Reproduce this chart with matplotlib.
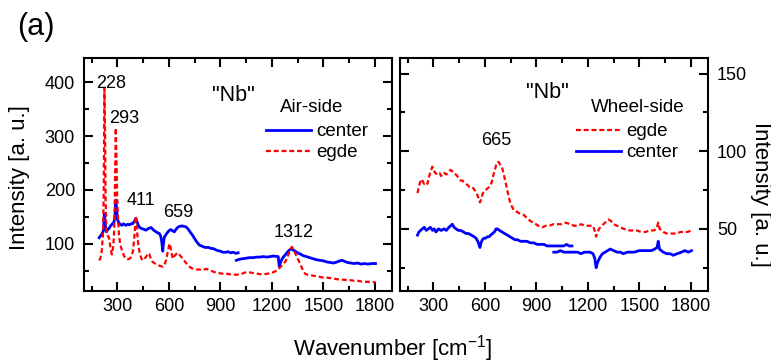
import matplotlib
matplotlib.use("Agg")
import matplotlib.pyplot as plt
from matplotlib.ticker import MultipleLocator
from matplotlib.lines import Line2D

plt.rcParams['font.family'] = ['Liberation Sans', 'DejaVu Sans']
plt.rcParams['mathtext.default'] = 'regular'

# ---------------- data ----------------
# Air-side, center (blue) -- two measured ranges
air_center_x1 = [193, 200, 210, 218, 224, 230, 236, 241, 250, 260, 271, 280, 286, 290, 295, 300, 306, 315, 325, 335,
                 349, 360, 370, 380, 388, 398, 407, 415, 420, 427, 440, 452, 466, 480, 495, 505, 515, 525, 535, 544,
                 552, 558, 564, 568, 573, 585, 595, 603, 612, 620, 632, 640, 650, 661, 675, 690, 700, 712, 725, 739,
                 750, 765, 779, 795, 810, 830, 845, 857, 870, 885, 900, 915, 930, 945, 960, 975, 990, 1003]
air_center_y1 = [111, 114, 118, 124, 156, 132, 122, 125, 128, 133, 137, 140, 155, 181, 165, 145, 140, 136, 134, 137,
                 134, 136, 135, 137, 137, 141, 147, 140, 135, 131, 128, 127, 125, 128, 130, 127, 124, 122, 120, 119,
                 114, 104, 86, 100, 112, 118, 122, 125, 126, 124, 122, 126, 130, 132, 133, 132, 131, 127, 121, 115,
                 109, 102, 97, 95, 93, 93, 91, 91, 89, 87, 86, 84, 84, 85, 83, 84, 82, 83]
air_center_x2 = [993, 1010, 1030, 1050, 1070, 1091, 1110, 1130, 1150, 1170, 1190, 1210, 1230, 1237, 1243, 1250, 1260,
                 1267, 1280, 1295, 1305, 1316, 1325, 1340, 1355, 1365, 1380, 1400, 1420, 1440, 1462, 1480, 1500,
                 1520, 1540, 1560, 1580, 1595, 1609, 1625, 1640, 1660, 1677, 1700, 1720, 1740, 1760, 1780, 1804]
air_center_y2 = [69, 71, 72, 73, 74, 74, 75, 75, 76, 75, 76, 77, 76, 76, 57, 65, 72,
                 75, 80, 86, 89, 90, 88, 85, 82, 81, 78, 76, 74, 72, 70, 69, 68,
                 66, 65, 64, 66, 68, 69, 67, 65, 64, 63, 64, 62, 63, 62, 63, 63]

# Air-side, edge (red)
air_edge_x = [193, 200, 208, 213, 216, 220, 224, 228, 231, 236, 243, 251, 258, 267, 274, 279, 283, 287, 290, 294,
              298, 302, 308, 314, 320, 330, 340, 349, 360, 370, 379, 390, 398, 403, 407, 412, 416, 423, 432, 440,
              446, 455, 468, 478, 485, 495, 505, 515, 525, 534, 545, 555, 564, 572, 578, 583, 590, 597, 603, 608,
              614, 622, 630, 640, 652, 660, 670, 681, 695, 708, 720, 735, 745, 759, 775, 790, 805, 818, 835, 850,
              865, 880, 896, 915, 935, 955, 975, 993, 1010, 1025, 1040, 1052, 1065, 1080, 1100, 1120, 1135, 1150,
              1170, 1190, 1210, 1228, 1245, 1260, 1277, 1290, 1300, 1310, 1316, 1325, 1335, 1345, 1355, 1365, 1375,
              1385, 1394, 1410, 1430, 1450, 1465, 1482, 1500, 1520, 1540, 1560, 1580, 1599, 1620, 1640, 1660, 1680,
              1700, 1716, 1740, 1760, 1780, 1804]
air_edge_y = [69, 72, 85, 105, 119, 200, 388, 300, 180, 125, 115, 111, 95, 80, 92, 110, 150, 250, 315, 260,
              190, 156, 120, 104, 94, 84, 76, 72, 71, 72, 75, 85, 110, 135, 151, 140, 115, 94, 80, 72,
              69, 71, 76, 82, 81, 72, 66, 64, 62, 60, 59, 58, 57, 60, 64, 69, 80, 92, 100, 97,
              85, 72, 76, 80, 83, 80, 76, 72, 66, 61, 57, 54, 53, 52, 52, 51, 52, 53, 51, 49,
              47, 46, 45, 44, 44, 43, 43, 42, 43, 44, 46, 47, 47, 46, 45, 44, 43, 43,
              44, 45, 47, 50, 55, 60, 66, 74, 83, 91, 94, 90, 83, 75, 69, 62, 55,
              48, 44, 42, 41, 40, 39, 38, 37, 37, 36, 35, 34, 33, 33, 32, 32, 31,
              31, 30, 29, 29, 29, 28]

# Wheel-side, edge (red)
wheel_edge_x = [207, 215, 222, 230, 236, 245, 255, 265, 275, 285, 293, 300, 310, 323, 335, 345, 355, 362, 375, 390,
                400, 410, 420, 430, 439, 450, 460, 470, 478, 490, 500, 510, 526, 540, 552, 562, 571, 580, 588, 594,
                605, 615, 625, 633, 642, 650, 656, 665, 672, 680, 690, 701, 710, 720, 730, 740, 750, 768, 785, 800,
                826, 845, 865, 885, 910, 933, 955, 975, 1000, 1020, 1045, 1070, 1097, 1120, 1140, 1160, 1185, 1213,
                1230, 1242, 1248, 1256, 1265, 1281, 1300, 1320, 1335, 1350, 1370, 1388, 1410, 1440, 1460, 1484, 1510,
                1535, 1562, 1585, 1600, 1610, 1618, 1639, 1660, 1690, 1717, 1740, 1760, 1780, 1804]
wheel_edge_y = [73, 77, 80, 82, 81, 79, 80, 79, 84, 87, 90, 88, 86, 85, 86, 84, 86, 86, 85, 87,
                88, 87, 86, 85, 84, 82, 81, 81, 80, 79, 78, 77, 77, 75, 73, 70, 67, 70, 73, 74,
                75, 76, 77, 78, 81, 85, 87, 91, 93, 93, 91, 89, 85, 80, 75, 70, 66, 62, 61, 60,
                59, 57, 55, 54, 52, 51, 52, 52, 53, 53, 53, 54, 53, 52, 52, 53, 52, 52,
                52, 48, 45, 48, 50, 52, 54, 56, 55, 53, 52, 51, 50, 49, 49, 49, 48,
                48, 49, 49, 50, 54, 50, 48, 47, 47, 47, 48, 48, 48, 49]

# Wheel-side, center (blue) -- two measured ranges
wheel_center_x1 = [207, 215, 225, 235, 246, 258, 270, 282, 295, 304, 315, 330, 345, 362, 375, 390, 400, 410, 420, 432,
                   445, 459, 475, 490, 505, 520, 536, 548, 558, 565, 571, 577, 585, 594, 605, 615, 625, 633, 645, 655,
                   665, 672, 685, 700, 715, 730, 745, 760, 775, 790, 807, 825, 845, 865, 885, 905, 925, 945, 962, 985,
                   1005, 1025, 1040, 1059, 1075, 1090, 1107]
wheel_center_y1 = [46, 48, 49, 50, 51, 49, 50, 51, 49, 50, 48, 50, 49, 50, 49, 51, 52, 53, 51, 50,
                   49, 49, 48, 47, 47, 46, 45, 44, 42, 40, 38, 41, 43, 44, 44, 45, 45, 46, 47, 48,
                   50, 50, 49, 48, 47, 46, 45, 44, 43, 43, 42, 42, 42, 41, 41, 40, 40, 40, 39, 39,
                   39, 39, 39, 39, 40, 39, 39]
wheel_center_x2 = [1001, 1020, 1040, 1060, 1080, 1100, 1117, 1140, 1160, 1180, 1200, 1213, 1230, 1240, 1248, 1255,
                   1263, 1272, 1285, 1300, 1315, 1330, 1350, 1370, 1390, 1407, 1430, 1450, 1470, 1500, 1523, 1545,
                   1570, 1590, 1603, 1610, 1617, 1639, 1660, 1680, 1697, 1720, 1745, 1765, 1785, 1804]
wheel_center_y2 = [35, 35, 36, 35, 35, 35, 35, 35, 34, 35, 35, 35, 34, 31, 25, 28,
                   30, 32, 34, 35, 36, 37, 36, 35, 35, 34, 35, 35, 35, 36, 36, 36,
                   36, 37, 38, 42, 37, 35, 34, 34, 33, 34, 35, 36, 35, 36]

# peak labels
air_peaks = [228, 293, 411, 659, 1312]
air_peak_label_pos = [(261, 398), (342, 332), (437, 181), (657, 158), (1325, 120)]
wheel_peaks = [665]
wheel_peak_label_pos = [(667, 107)]

x_ticks = [300, 600, 900, 1200, 1500, 1800]
air_y_ticks = [100, 200, 300, 400]
wheel_y_ticks = [50, 100, 150]

BLUE = '#0000ff'
RED = '#ff0000'
DASH = (0, (2.2, 1.3))

# ---------------- figure ----------------
W, H = 771, 363
fig = plt.figure(figsize=(W / 100, H / 100), dpi=100)
ax1 = fig.add_axes([84 / W, 1 - 291 / H, 308 / W, 233 / H])
ax2 = fig.add_axes([400 / W, 1 - 291 / H, 308 / W, 233 / H])

for ax in (ax1, ax2):
    for s in ax.spines.values():
        s.set_linewidth(1.5)
    ax.set_xlim(105, 1900)
    ax.set_xticks(x_ticks)
    ax.xaxis.set_minor_locator(MultipleLocator(150))
    ax.tick_params(which='both', direction='in', top=True, right=True, width=1.5)
    ax.tick_params(which='major', length=6.5, labelsize=13)
    ax.tick_params(which='minor', length=3.6)
    ax.tick_params(axis='x', pad=5)

# ---- left panel ----
ax1.plot(air_center_x1, air_center_y1, color=BLUE, lw=2.0)
ax1.plot(air_center_x2, air_center_y2, color=BLUE, lw=2.0)
ax1.plot(air_edge_x, air_edge_y, color=RED, lw=1.6, ls=DASH)
ax1.set_ylim(12, 445)
ax1.set_yticks(air_y_ticks)
ax1.yaxis.set_minor_locator(MultipleLocator(50))
ax1.tick_params(axis='y', pad=6.5)
for p, (tx, ty) in zip(air_peaks, air_peak_label_pos):
    ax1.text(tx, ty, str(p), ha='center', va='center', fontsize=13)
ax1.text(975, 376, '"Nb"', ha='center', va='center', fontsize=15.5)
ax1.text(0.739, 0.786, 'Air-side', transform=ax1.transAxes, ha='center', va='center', fontsize=13.5)
h_c = Line2D([], [], color=BLUE, lw=2.0)
h_e = Line2D([], [], color=RED, lw=1.6, ls=DASH)
ax1.legend([h_c, h_e], ['center', 'egde'], loc='upper left', bbox_to_anchor=(0.59, 0.72),
           frameon=False, fontsize=13.5, handlelength=2.4, handletextpad=0.3, labelspacing=0.2,
           borderpad=0, borderaxespad=0)

# ---- right panel ----
ax2.plot(wheel_edge_x, wheel_edge_y, color=RED, lw=1.6, ls=DASH)
ax2.plot(wheel_center_x1, wheel_center_y1, color=BLUE, lw=2.0)
ax2.plot(wheel_center_x2, wheel_center_y2, color=BLUE, lw=2.0)
ax2.set_ylim(10, 160)
ax2.set_yticks(wheel_y_ticks)
ax2.yaxis.set_minor_locator(MultipleLocator(25))
ax2.tick_params(axis='y', labelleft=False, labelright=True, pad=6.5)
for p, (tx, ty) in zip(wheel_peaks, wheel_peak_label_pos):
    ax2.text(tx, ty, str(p), ha='center', va='center', fontsize=13)
ax2.text(0.477, 0.85, '"Nb"', transform=ax2.transAxes, ha='center', va='center', fontsize=15.5)
ax2.text(0.773, 0.786, 'Wheel-side', transform=ax2.transAxes, ha='center', va='center', fontsize=13.5)
h_e2 = Line2D([], [], color=RED, lw=1.6, ls=DASH)
h_c2 = Line2D([], [], color=BLUE, lw=2.0)
ax2.legend([h_e2, h_c2], ['egde', 'center'], loc='upper left', bbox_to_anchor=(0.57, 0.72),
           frameon=False, fontsize=13.5, handlelength=2.4, handletextpad=0.3, labelspacing=0.2,
           borderpad=0, borderaxespad=0)

# ---- figure texts ----
fig.text(36 / W, 1 - 27 / H, '(a)', ha='center', va='center', fontsize=22)
fig.text(20 / W, 1 - 178 / H, 'Intensity [a. u.]', rotation=90, ha='center', va='center', fontsize=16)
fig.text(760 / W, 1 - 194 / H, 'Intensity [a. u.]', rotation=270, ha='center', va='center', fontsize=16)
fig.text(393 / W, 1 - 349 / H, r'Wavenumber [cm$^{-1}$]', ha='center', va='center', fontsize=16)

fig.savefig('out.png', dpi=100)
